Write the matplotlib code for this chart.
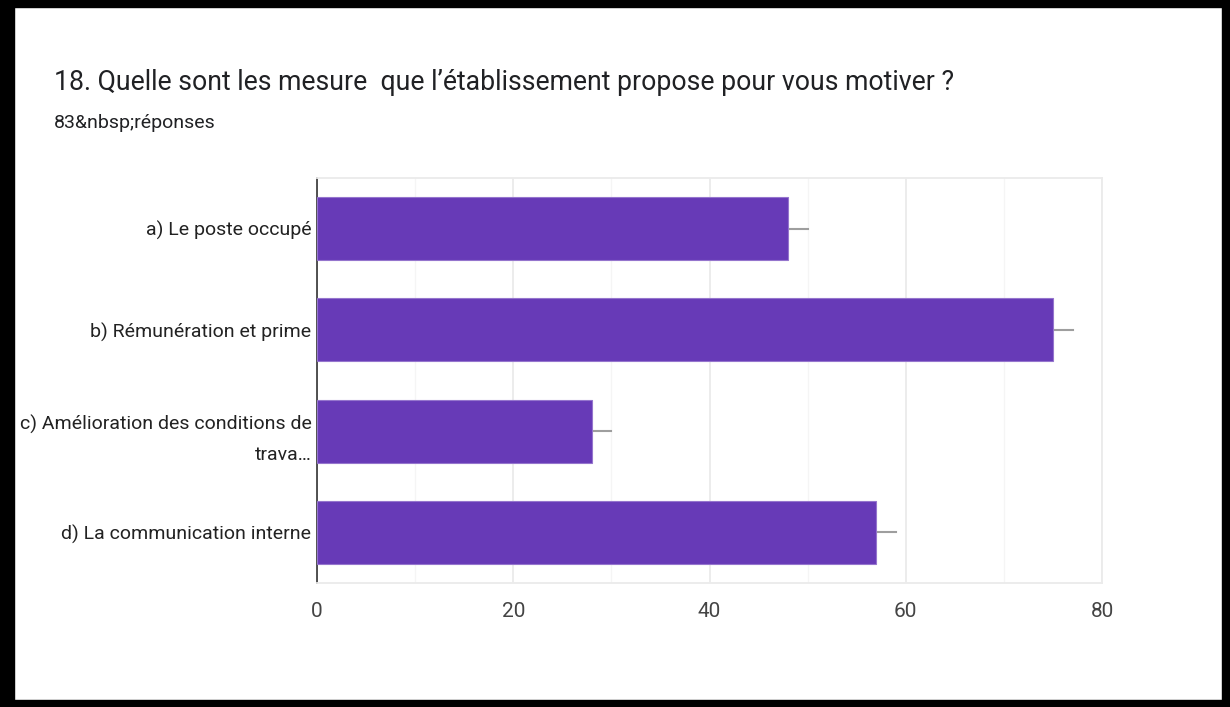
import matplotlib
matplotlib.use('Agg')
import matplotlib.pyplot as plt
from matplotlib.patches import Rectangle

labels = ['a) Le poste occupé', 'b) Rémunération et prime',
          'c) Amélioration des conditions de\ntrava…', 'd) La communication interne']
counts = [48, 75, 28, 57]
xticks = [0, 20, 40, 60, 80]

purple = '#673ab7'

fig = plt.figure(figsize=(12.3, 7.07), dpi=100)
W, H = 1230, 707

def fx(px):
    return px / W

def fy(py):
    return 1 - py / H

# axes placed in pixel terms of the card
ax = fig.add_axes([fx(317), fy(583), fx(1102) - fx(317), fy(178) - fy(583)])
ypos = list(range(len(labels)))
ax.barh(ypos, counts, height=0.62, color=purple, edgecolor='#9575cd', linewidth=0.8, zorder=3)
# short grey tick past each bar end
for y, c in zip(ypos, counts):
    ax.plot([c, c + 2], [y, y], color='#9e9e9e', lw=1.5, zorder=2)

ax.set_xlim(0, 80)
ax.set_ylim(3.5, -0.5)
ax.set_xticks(xticks)
ax.set_xticks(range(10, 80, 20), minor=True)
ax.set_yticks(ypos)
ax.set_yticklabels(labels, ha='right', linespacing=1.9)
ax.grid(axis='x', which='major', color='#ebebeb', lw=1.3, zorder=0)
ax.grid(axis='x', which='minor', color='#f5f5f5', lw=1.0, zorder=0)
ax.tick_params(axis='both', which='both', length=0)
ax.tick_params(axis='x', pad=14, labelsize=15, labelcolor='#444444')
ax.tick_params(axis='y', pad=4, labelsize=14, labelcolor='#222222')
for lab in ax.get_xticklabels() + ax.get_yticklabels():
    lab.set_family(['Roboto', 'DejaVu Sans'])
for side in ['top', 'right', 'bottom']:
    ax.spines[side].set_color('#ebebeb')
    ax.spines[side].set_linewidth(1.3)
ax.spines['left'].set_color('#333333')
ax.spines['left'].set_linewidth(1.2)

fig.text(fx(54), fy(83), '18. Quelle sont les mesure  que l\u2019établissement propose pour vous motiver ?',
         fontsize=19.2, color='#202124', family=['Roboto', 'DejaVu Sans'], va='center')
fig.text(fx(54), fy(123), '83&nbsp;réponses', fontsize=14, color='#202124',
         family=['Roboto', 'DejaVu Sans'], va='center')

# black frame around the card
for x0, y0, w, h in [(0, 0, 1230, 7), (0, 700, 1230, 7), (0, 0, 14, 707), (1222, 0, 8, 707)]:
    fig.patches.append(Rectangle((fx(x0), fy(y0 + h)), w / W, h / H, transform=fig.transFigure,
                                 color='black', zorder=10))

fig.savefig('out.png', dpi=100)
